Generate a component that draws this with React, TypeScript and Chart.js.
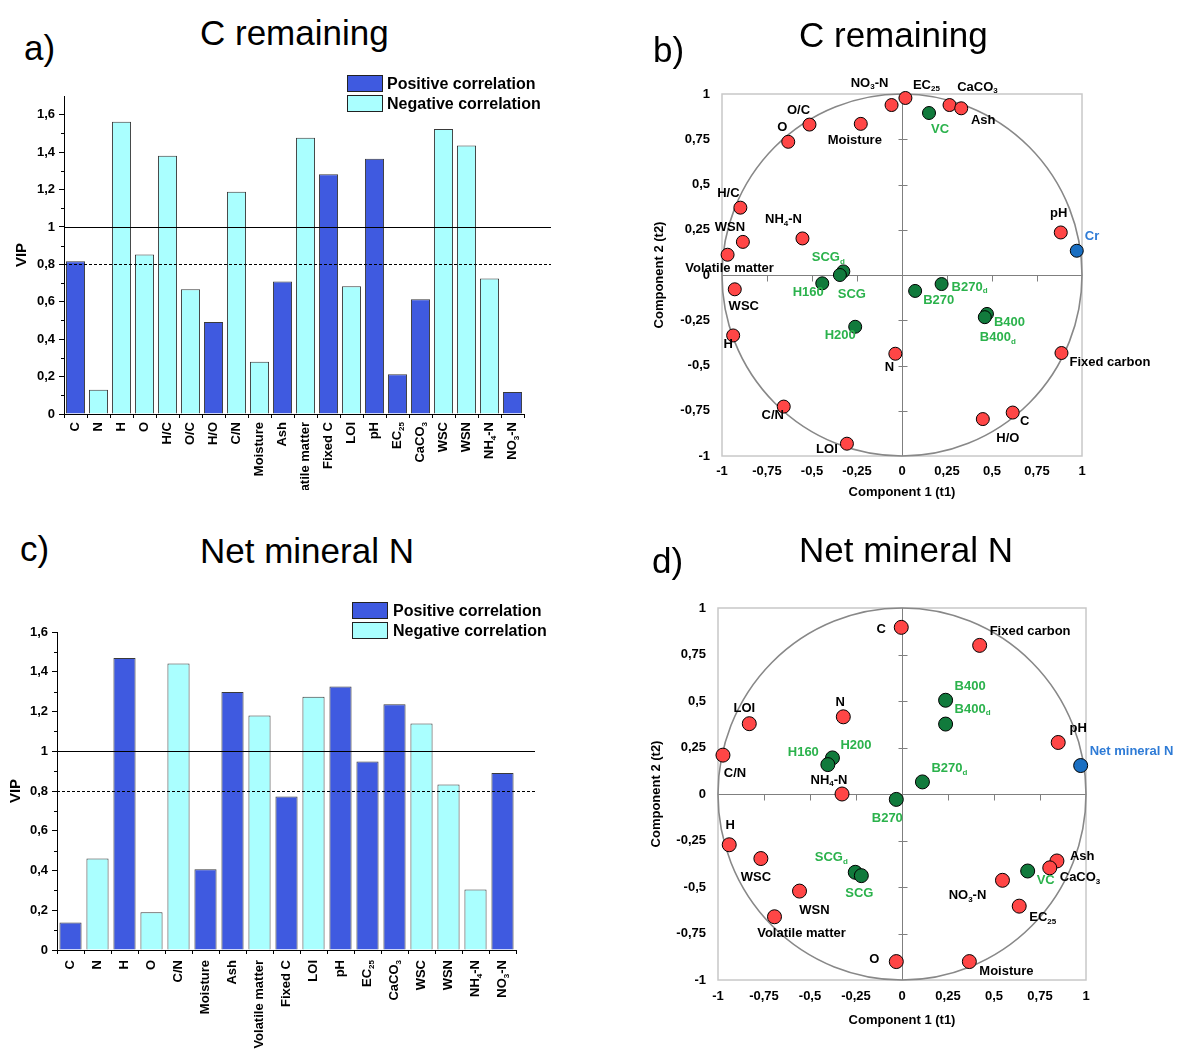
import React, { useEffect, useRef } from "react";
import { Chart, registerables } from "chart.js";
Chart.register(...registerables);

const FONT = "'Liberation Sans', Arial, Helvetica, sans-serif";
const BLUE_BAR = "#3F5AE0";
const CYAN_BAR = "#AAFFFF";
const BAR_EDGE = "#3a3a3a";
const RED_PT = "#FF4646";
const GREEN_PT = "#117A3C";
const BLUE_PT = "#1A6FC2";
const GREEN_TXT = "#2BB24C";
const BLUE_TXT = "#2E7BD6";

// ---------- Panel a: VIP, C remaining ----------
const catsA = ["C", "N", "H", "O", "H/C", "O/C", "H/O", "C/N", "Moisture", "Ash", "Volatile matter", "Fixed C", "LOI", "pH", "EC_25", "CaCO_3", "WSC", "WSN", "NH_4-N", "NO_3-N"];
const vipA = [0.816, 0.13, 1.563, 0.853, 1.381, 0.667, 0.492, 1.188, 0.279, 0.709, 1.477, 1.282, 0.683, 1.365, 0.213, 0.613, 1.524, 1.435, 0.724, 0.117];
const signA = ["+", "-", "-", "-", "-", "-", "+", "-", "-", "+", "-", "+", "-", "+", "+", "+", "-", "-", "-", "+"];

// ---------- Panel c: VIP, Net mineral N ----------
const catsC = ["C", "N", "H", "O", "C/N", "Moisture", "Ash", "Volatile matter", "Fixed C", "LOI", "pH", "EC_25", "CaCO_3", "WSC", "WSN", "NH_4-N", "NO_3-N"];
const vipC = [0.138, 0.46, 1.469, 0.19, 1.442, 0.406, 1.298, 1.18, 0.772, 1.274, 1.326, 0.949, 1.237, 1.14, 0.833, 0.304, 0.89];
const signC = ["+", "-", "+", "-", "-", "+", "+", "-", "+", "-", "+", "+", "+", "-", "-", "-", "+"];

const VIP_TICKS = [0, 0.2, 0.4, 0.6, 0.8, 1, 1.2, 1.4, 1.6];
const VIP_THRESHOLD = 1;
const VIP_SOFT_THRESHOLD = 0.8;
const LEGEND_POS = "Positive correlation";
const LEGEND_NEG = "Negative correlation";

// ---------- Panel b: loadings, C remaining ----------
const varNamesB = ["NO_3-N", "EC_25", "CaCO_3", "Ash", "O/C", "O", "Moisture", "H/C", "WSN", "NH_4-N", "Volatile matter", "WSC", "H", "N", "C/N", "LOI", "H/O", "C", "Fixed carbon", "pH"];
const varXB = [-0.058, 0.019, 0.264, 0.329, -0.514, -0.632, -0.229, -0.898, -0.884, -0.553, -0.969, -0.929, -0.938, -0.037, -0.657, -0.306, 0.449, 0.615, 0.886, 0.882];
const varYB = [0.939, 0.978, 0.939, 0.921, 0.831, 0.736, 0.835, 0.372, 0.183, 0.202, 0.112, -0.079, -0.334, -0.435, -0.727, -0.932, -0.796, -0.760, -0.431, 0.235];
const sampleNamesB = ["VC", "SCG_d", "SCG", "H160", "H200", "B270", "B270_d", "B400", "B400_d"];
const sampleXB = [0.150, -0.326, -0.345, -0.443, -0.260, 0.073, 0.220, 0.472, 0.460];
const sampleYB = [0.895, 0.020, 0.0, -0.046, -0.286, -0.088, -0.050, -0.215, -0.233];
const respNamesB = ["Cr"];
const respXB = [0.971];
const respYB = [0.134];

// label offsets (px) for panel b
const varLblB = [[-22, -22, "c"], [21, -13, "c"], [28, -18, "c"], [22, 12, "c"], [-11, -14, "c"], [-6, -14, "c"], [-6, 17, "c"], [-12, -14, "c"], [-13, -14, "c"], [-19, -19, "c"], [2, 14, "c"], [9, 17, "c"], [-5, 9, "c"], [-6, 14, "c"], [-11, 9, "c"], [-20, 6, "c"], [25, 19, "c"], [12, 9, "c"], [8, 9, "l"], [-2, -19, "c"]];
const sampleLblB = [[11, 16, "c"], [-15, -14, "c"], [12, 19, "c"], [-14, 9, "c"], [-15, 9, "c"], [8, 9, "l"], [10, 3, "l"], [7, 9, "l"], [-5, 20, "l"]];
const respLblB = [[8, -14, "l"]];

// ---------- Panel d: loadings, Net mineral N ----------
const varNamesD = ["C", "Fixed carbon", "LOI", "N", "C/N", "pH", "NH_4-N", "H", "WSC", "WSN", "Volatile matter", "O", "Moisture", "NO_3-N", "EC_25", "Ash", "CaCO_3"];
const varXD = [-0.004, 0.422, -0.830, -0.319, -0.973, 0.849, -0.326, -0.939, -0.767, -0.557, -0.693, -0.031, 0.366, 0.546, 0.637, 0.842, 0.803];
const varYD = [0.896, 0.799, 0.378, 0.415, 0.209, 0.277, 0.0, -0.273, -0.347, -0.522, -0.660, -0.901, -0.901, -0.464, -0.603, -0.360, -0.397];
const sampleNamesD = ["B400", "B400_d", "H200", "H160", "B270_d", "B270", "SCG_d", "SCG", "VC"];
const sampleXD = [0.237, 0.237, -0.378, -0.403, 0.111, -0.031, -0.254, -0.221, 0.683];
const sampleYD = [0.504, 0.376, 0.194, 0.158, 0.065, -0.029, -0.421, -0.439, -0.414];
const respNamesD = ["Net mineral N"];
const respXD = [0.971];
const respYD = [0.153];

const varLblD = [[-20, 2, "c"], [10, -14, "l"], [-5, -15, "c"], [-3, -14, "c"], [12, 18, "c"], [20, -14, "c"], [-13, -14, "c"], [1, -19, "c"], [-5, 19, "c"], [15, 19, "c"], [27, 17, "c"], [-22, -2, "c"], [10, 10, "l"], [-35, 15, "c"], [10, 11, "l"], [13, -5, "l"], [10, 10, "l"]];
const sampleLblD = [[9, -14, "l"], [9, -15, "l"], [8, -12, "l"], [-9, -12, "r"], [9, -13, "l"], [-9, 19, "c"], [-24, -15, "c"], [-2, 18, "c"], [9, 9, "l"]];
const respLblD = [[9, -14, "l"]];

const AXIS_TICKS = [-1, -0.75, -0.5, -0.25, 0, 0.25, 0.5, 0.75, 1];

const fmt = (v: number) => String(Math.round(v * 100) / 100).replace(".", ",");

function drawRich(ctx: CanvasRenderingContext2D, text: string, x: number, y: number, align: string, size: number, color: string) {
  const parts: { t: string; sub: boolean; w?: number }[] = [];
  const re = /_(\w+)/g;
  let last = 0;
  let m: RegExpExecArray | null;
  while ((m = re.exec(text))) {
    if (m.index > last) parts.push({ t: text.slice(last, m.index), sub: false });
    parts.push({ t: m[1], sub: true });
    last = re.lastIndex;
  }
  if (last < text.length) parts.push({ t: text.slice(last), sub: false });
  const fMain = `bold ${size}px ${FONT}`;
  const fSub = `bold ${Math.round(size * 0.65)}px ${FONT}`;
  let w = 0;
  for (const p of parts) {
    ctx.font = p.sub ? fSub : fMain;
    p.w = ctx.measureText(p.t).width;
    w += p.w;
  }
  let sx = align === "l" || align === "left" ? x : align === "r" || align === "right" ? x - w : x - w / 2;
  ctx.fillStyle = color;
  ctx.textBaseline = "middle";
  ctx.textAlign = "left";
  for (const p of parts) {
    ctx.font = p.sub ? fSub : fMain;
    ctx.fillText(p.t, sx, p.sub ? y + size * 0.32 : y);
    sx += p.w as number;
  }
}

const zeroPad = (s: any) => {
  s.paddingTop = 0;
  s.paddingBottom = 0;
  s.paddingLeft = 0;
  s.paddingRight = 0;
};

const barDecor = {
  id: "barDecor",
  afterDatasetsDraw(chart: any, _args: any, o: any) {
    const { ctx, chartArea: ca, scales } = chart;
    const x = scales.x, y = scales.y;
    ctx.save();
    ctx.strokeStyle = "#000";
    ctx.lineWidth = 1;
    const y1 = Math.round(y.getPixelForValue(VIP_THRESHOLD)) + 0.5;
    ctx.beginPath();
    ctx.moveTo(ca.left, y1);
    ctx.lineTo(ca.right + o.lineExt, y1);
    ctx.stroke();
    ctx.setLineDash([3, 2]);
    const y2 = Math.round(y.getPixelForValue(VIP_SOFT_THRESHOLD)) + 0.5;
    ctx.beginPath();
    ctx.moveTo(ca.left, y2);
    ctx.lineTo(ca.right + o.lineExt, y2);
    ctx.stroke();
    ctx.setLineDash([]);
    ctx.beginPath();
    for (let k = 1; k / 10 < y.max; k += 2) {
      const py = Math.round(y.getPixelForValue(k / 10)) + 0.5;
      ctx.moveTo(ca.left - 3, py);
      ctx.lineTo(ca.left, py);
    }
    ctx.stroke();
    const labels = chart.data.labels;
    labels.forEach((lab: string, i: number) => {
      const cx = x.getPixelForValue(i);
      ctx.save();
      ctx.translate(cx, ca.bottom + o.labelGap);
      ctx.rotate(-Math.PI / 2);
      drawRich(ctx, lab, 0, 0, "r", 13, "#000");
      ctx.restore();
    });
    ctx.restore();
  },
};

const circleDecor = {
  id: "circleDecor",
  beforeDatasetsDraw(chart: any) {
    const { ctx, chartArea: ca, scales } = chart;
    const x = scales.x, y = scales.y;
    ctx.save();
    ctx.strokeStyle = "#c8c8c8";
    ctx.lineWidth = 1.5;
    ctx.strokeRect(ca.left, ca.top, ca.right - ca.left, ca.bottom - ca.top);
    const x0 = Math.round(x.getPixelForValue(0)) + 0.5;
    const y0 = Math.round(y.getPixelForValue(0)) + 0.5;
    ctx.strokeStyle = "#7f7f7f";
    ctx.lineWidth = 1;
    ctx.beginPath();
    ctx.moveTo(x0, ca.top);
    ctx.lineTo(x0, ca.bottom);
    ctx.moveTo(ca.left, y0);
    ctx.lineTo(ca.right, y0);
    for (const v of AXIS_TICKS) {
      if (v === 0 || Math.abs(v) === 1) continue;
      const px = Math.round(x.getPixelForValue(v)) + 0.5;
      ctx.moveTo(px, y0);
      ctx.lineTo(px, y0 + 6);
      const py = Math.round(y.getPixelForValue(v)) + 0.5;
      ctx.moveTo(x0 - 4, py);
      ctx.lineTo(x0 + 5, py);
    }
    ctx.stroke();
    const rx = x.getPixelForValue(1) - x.getPixelForValue(0);
    const ry = y.getPixelForValue(0) - y.getPixelForValue(1);
    ctx.strokeStyle = "#888888";
    ctx.lineWidth = 1.6;
    ctx.beginPath();
    ctx.ellipse(x.getPixelForValue(0), y.getPixelForValue(0), rx, ry, 0, 0, Math.PI * 2);
    ctx.stroke();
    ctx.restore();
  },
  afterDatasetsDraw(chart: any) {
    const { ctx } = chart;
    ctx.save();
    chart.data.datasets.forEach((ds: any, di: number) => {
      const meta = chart.getDatasetMeta(di);
      meta.data.forEach((pt: any, i: number) => {
        const off = ds.lblOffsets[i];
        drawRich(ctx, ds.ptLabels[i], pt.x + off[0], pt.y + off[1], off[2], 13, ds.lblColor);
      });
    });
    ctx.restore();
  },
};

function buildBar(cats: string[], vals: number[], signs: string[], g: any) {
  const pos = vals.map((v, i) => (signs[i] === "+" ? v : null));
  const neg = vals.map((v, i) => (signs[i] === "-" ? v : null));
  const common = { borderColor: BAR_EDGE, borderWidth: 1, barPercentage: g.barPct, categoryPercentage: 1, grouped: false, skipNull: true };
  return {
    type: "bar",
    data: {
      labels: cats,
      datasets: [
        { label: LEGEND_POS, data: pos, backgroundColor: BLUE_BAR, ...common },
        { label: LEGEND_NEG, data: neg, backgroundColor: CYAN_BAR, ...common },
      ],
    },
    options: {
      animation: false,
      responsive: false,
      maintainAspectRatio: false,
      devicePixelRatio: 1,
      layout: { padding: { top: g.padTop, right: g.padRight, left: 0, bottom: 0 } },
      plugins: {
        legend: { display: false },
        tooltip: { enabled: false },
        barDecor: { lineExt: g.lineExt, labelGap: g.labelGap },
      },
      scales: {
        x: {
          grid: { display: true, drawOnChartArea: false, drawTicks: true, tickLength: 4, color: "#000", offset: true },
          border: { display: true, color: "#000", width: 1 },
          ticks: { display: false },
          afterFit: (s: any) => { s.height = g.xH; zeroPad(s); },
        },
        y: {
          min: 0,
          max: g.yMax,
          grid: { display: true, drawOnChartArea: false, drawTicks: true, tickLength: 5, color: "#000" },
          border: { display: true, color: "#000", width: 1 },
          ticks: { font: { family: FONT, size: 13, weight: "bold" }, color: "#000", padding: g.tickPad, callback: (v: number) => fmt(v) },
          afterBuildTicks: (s: any) => { s.ticks = VIP_TICKS.map((v) => ({ value: v })); },
          title: { display: true, text: "VIP", color: "#000", font: { family: FONT, size: 15, weight: "bold" }, padding: { top: g.titlePad, bottom: 0 } },
          afterFit: (s: any) => { s.width = g.yW; zeroPad(s); },
        },
      },
    },
    plugins: [barDecor],
  };
}

function mkSet(names: string[], xs: number[], ys: number[], offs: any[], fill: string, txt: string, r: number) {
  return {
    data: xs.map((x, i) => ({ x, y: ys[i] })),
    ptLabels: names,
    lblOffsets: offs,
    lblColor: txt,
    pointRadius: r,
    pointBackgroundColor: fill,
    pointBorderColor: "#000",
    pointBorderWidth: 1,
    showLine: false,
    clip: false,
  };
}

function buildScatter(sets: any[], g: any) {
  const tickFont = { family: FONT, size: 13, weight: "bold" };
  return {
    type: "scatter",
    data: { datasets: sets },
    options: {
      animation: false,
      responsive: false,
      maintainAspectRatio: false,
      devicePixelRatio: 1,
      layout: { padding: { top: g.padTop, right: g.padRight, left: 0, bottom: 0 } },
      plugins: { legend: { display: false }, tooltip: { enabled: false } },
      scales: {
        x: {
          type: "linear",
          min: -1,
          max: 1,
          afterBuildTicks: (s: any) => { s.ticks = AXIS_TICKS.map((v) => ({ value: v })); },
          ticks: { font: tickFont, color: "#000", padding: g.xTickPad, callback: (v: number) => fmt(v), maxRotation: 0, autoSkip: false },
          grid: { display: false, drawTicks: false },
          border: { display: false },
          title: { display: true, text: "Component 1 (t1)", color: "#000", font: tickFont, padding: { top: 0, bottom: g.xTitlePad } },
          afterFit: (s: any) => { s.height = g.xH; zeroPad(s); },
        },
        y: {
          type: "linear",
          min: -1,
          max: 1,
          afterBuildTicks: (s: any) => { s.ticks = AXIS_TICKS.map((v) => ({ value: v })); },
          ticks: { font: tickFont, color: "#000", padding: g.yTickPad, callback: (v: number) => fmt(v), autoSkip: false },
          grid: { display: false, drawTicks: false },
          border: { display: false },
          title: { display: true, text: "Component 2 (t2)", color: "#000", font: tickFont, padding: { top: g.yTitlePad, bottom: 0 } },
          afterFit: (s: any) => { s.width = g.yW; zeroPad(s); },
        },
      },
    },
    plugins: [circleDecor],
  };
}

const titleStyle = (left: number, top: number): React.CSSProperties => ({
  position: "absolute",
  left,
  top,
  fontFamily: FONT,
  fontSize: 35,
  lineHeight: "35px",
  whiteSpace: "nowrap",
  color: "#000",
});

function Legend({ left, top, textLeft }: { left: number; top: number; textLeft: number }) {
  const box = (bg: string, t: number): React.CSSProperties => ({
    position: "absolute", left, top: t, width: 34, height: 15, background: bg, border: "1px solid #222",
  });
  const txt = (t: number): React.CSSProperties => ({
    position: "absolute", left: textLeft, top: t - 1, fontFamily: FONT, fontWeight: "bold", fontSize: 16, lineHeight: "19px", whiteSpace: "nowrap", color: "#000",
  });
  return (
    <>
      <div style={box(BLUE_BAR, top)} />
      <div style={txt(top)}>{LEGEND_POS}</div>
      <div style={box(CYAN_BAR, top + 20)} />
      <div style={txt(top + 20)}>{LEGEND_NEG}</div>
    </>
  );
}

export default function App() {
  const refA = useRef<HTMLCanvasElement>(null);
  const refB = useRef<HTMLCanvasElement>(null);
  const refC = useRef<HTMLCanvasElement>(null);
  const refD = useRef<HTMLCanvasElement>(null);

  useEffect(() => {
    const charts: Chart[] = [];
    charts.push(new Chart(refA.current as HTMLCanvasElement, buildBar(catsA, vipA, signA, {
      yMax: 1.7, padTop: 6, padRight: 36, yW: 64, xH: 76, tickPad: 4, titlePad: 13, labelGap: 8, lineExt: 27, barPct: 0.83,
    }) as any));
    charts.push(new Chart(refC.current as HTMLCanvasElement, buildBar(catsC, vipC, signC, {
      yMax: 1.6, padTop: 32, padRight: 44, yW: 57, xH: 102, tickPad: 4, titlePad: 7, labelGap: 10, lineExt: 19, barPct: 0.82,
    }) as any));
    charts.push(new Chart(refB.current as HTMLCanvasElement, buildScatter([
      mkSet(varNamesB, varXB, varYB, varLblB, RED_PT, "#000", 6.5),
      mkSet(sampleNamesB, sampleXB, sampleYB, sampleLblB, GREEN_PT, GREEN_TXT, 6.5),
      mkSet(respNamesB, respXB, respYB, respLblB, BLUE_PT, BLUE_TXT, 6.5),
    ], { padTop: 34, padRight: 102, yW: 82, xH: 44, yTickPad: 12, xTickPad: 8, yTitlePad: 12, xTitlePad: 0 }) as any));
    charts.push(new Chart(refD.current as HTMLCanvasElement, buildScatter([
      mkSet(varNamesD, varXD, varYD, varLblD, RED_PT, "#000", 7),
      mkSet(sampleNamesD, sampleXD, sampleYD, sampleLblD, GREEN_PT, GREEN_TXT, 7),
      mkSet(respNamesD, respXD, respYD, respLblD, BLUE_PT, BLUE_TXT, 7),
    ], { padTop: 38, padRight: 98, yW: 78, xH: 72, yTickPad: 12, xTickPad: 9, yTitlePad: 9, xTitlePad: 24 }) as any));
    return () => charts.forEach((c) => c.destroy());
  }, []);

  const cv = (left: number, top: number, w: number, h: number): React.CSSProperties => ({
    position: "absolute", left, top, width: w, height: h, display: "block",
  });

  return (
    <div style={{ position: "absolute", left: 0, top: 0, width: 1184, height: 1052, background: "#fff", overflow: "hidden" }}>
      <canvas ref={refA} width={560} height={400} style={cv(0, 90, 560, 400)} />
      <canvas ref={refB} width={544} height={440} style={cv(640, 60, 544, 440)} />
      <canvas ref={refC} width={560} height={452} style={cv(0, 600, 560, 452)} />
      <canvas ref={refD} width={544} height={482} style={cv(640, 570, 544, 482)} />

      <div style={titleStyle(24, 30)}>a)</div>
      <div style={titleStyle(200, 15)}>C remaining</div>
      <div style={titleStyle(653, 32)}>b)</div>
      <div style={titleStyle(799, 17)}>C remaining</div>
      <div style={titleStyle(20, 531)}>c)</div>
      <div style={titleStyle(200, 533)}>Net mineral N</div>
      <div style={titleStyle(652, 543)}>d)</div>
      <div style={titleStyle(799, 532)}>Net mineral N</div>

      <Legend left={347} top={75} textLeft={387} />
      <Legend left={352} top={602} textLeft={393} />
    </div>
  );
}
